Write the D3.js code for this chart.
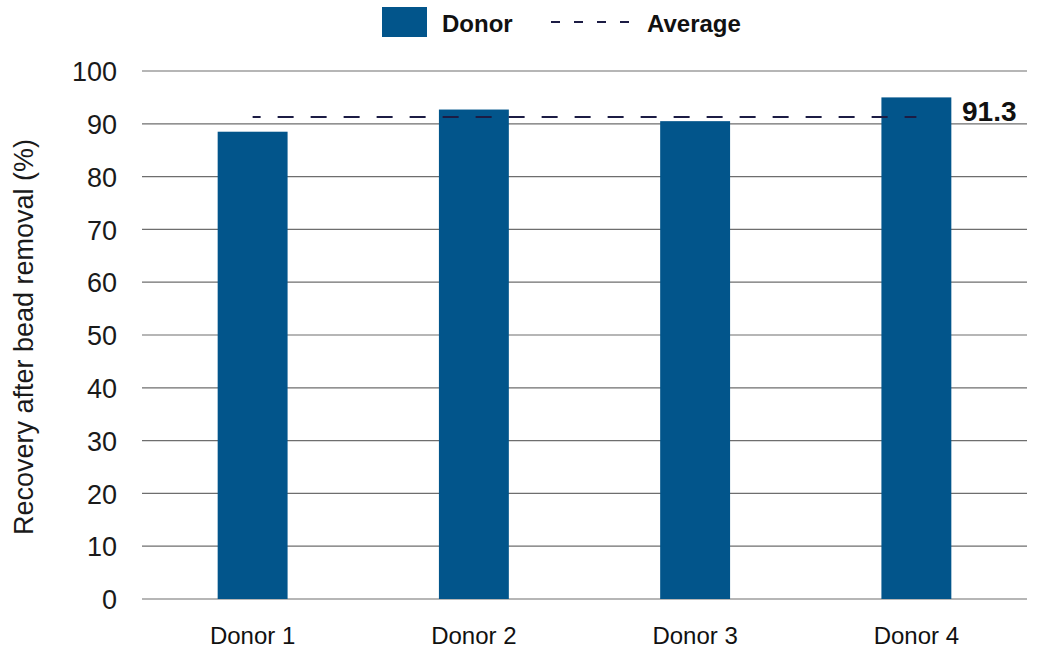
<!DOCTYPE html>
<html>
<head>
<meta charset="utf-8">
<script src="https://cdn.jsdelivr.net/npm/d3@7"></script>
<style>
  body { margin: 0; background: #fff; }
  text { font-family: "Liberation Sans", Arial, Helvetica, sans-serif; }
</style>
</head>
<body>
<div id="chart"></div>
<script>
const donors = ["Donor 1", "Donor 2", "Donor 3", "Donor 4"];
const recovery = [88.5, 92.7, 90.5, 95.0];
const average = 91.3;
const yTicks = [0, 10, 20, 30, 40, 50, 60, 70, 80, 90, 100];

const w = 1043;
const h = 670;
const plotLeft = 142, plotRight = 1027, plotTop = 71, plotBottom = 599;

const svg = d3.select("#chart")
  .append("svg")
  .attr("width", w)
  .attr("height", h);

const x = d3.scaleBand().domain(donors).range([plotLeft, plotRight])
  .paddingInner(0.684).paddingOuter(0.342);
const y = d3.scaleLinear().domain([0, 100]).range([plotBottom, plotTop]);

// grid lines
svg.append("g")
  .selectAll("line")
  .data(yTicks)
  .enter()
  .append("line")
  .attr("x1", plotLeft)
  .attr("x2", plotRight)
  .attr("y1", d => y(d))
  .attr("y2", d => y(d))
  .attr("stroke", "#6e6e6e")
  .attr("stroke-width", 1.2);

// y axis labels
const yAxis = d3.axisLeft(y).tickValues(yTicks).tickSize(0).tickPadding(0);
const gy = svg.append("g")
  .attr("transform", `translate(117, 0)`)
  .call(yAxis);
gy.select(".domain").remove();
gy.selectAll("text")
  .attr("font-size", "27px")
  .attr("fill", "#1a1a1a")
  .attr("dy", "0.36em")
  .style("font-family", "'Liberation Sans', Arial, sans-serif");

// x axis labels
const xAxis = d3.axisBottom(x).tickSize(0).tickPadding(0);
const gx = svg.append("g")
  .attr("transform", `translate(0, 627)`)
  .call(xAxis);
gx.select(".domain").remove();
gx.selectAll("text")
  .attr("font-size", "24px")
  .attr("fill", "#111")
  .style("font-family", "'Liberation Sans', Arial, sans-serif");

// bars
svg.append("g")
  .selectAll("rect")
  .data(recovery)
  .enter()
  .append("rect")
  .attr("x", (d, i) => x(donors[i]))
  .attr("width", x.bandwidth())
  .attr("y", d => y(d))
  .attr("height", d => y(0) - y(d))
  .attr("fill", "#02558b");

// average line
const cx1 = x(donors[0]) + x.bandwidth() / 2;
const cx2 = x(donors[donors.length - 1]) + x.bandwidth() / 2;
svg.append("line")
  .attr("x1", cx1)
  .attr("x2", cx2)
  .attr("y1", y(average))
  .attr("y2", y(average))
  .attr("stroke", "#1c1c44")
  .attr("stroke-width", 2)
  .attr("stroke-dasharray", "16 17")
  .attr("stroke-dashoffset", 8);

svg.append("text")
  .attr("x", 962)
  .attr("y", y(average) + 4)
  .attr("font-size", "28px")
  .attr("font-weight", "bold")
  .attr("fill", "#111")
  .text(average.toFixed(1));

// y title
svg.append("text")
  .attr("transform", `translate(33, ${(plotTop + plotBottom) / 2 + 2}) rotate(-90)`)
  .attr("text-anchor", "middle")
  .attr("font-size", "27px")
  .attr("fill", "#1a1a1a")
  .text("Recovery after bead removal (%)");

// legend
const legend = svg.append("g");
legend.append("rect")
  .attr("x", 382).attr("y", 7)
  .attr("width", 45).attr("height", 30)
  .attr("fill", "#02558b");
legend.append("text")
  .attr("x", 442).attr("y", 32)
  .attr("font-size", "24px")
  .attr("font-weight", "bold")
  .attr("fill", "#111")
  .text("Donor");
legend.append("line")
  .attr("x1", 551).attr("x2", 634)
  .attr("y1", 22).attr("y2", 22)
  .attr("stroke", "#1c1c44")
  .attr("stroke-width", 2)
  .attr("stroke-dasharray", "9 14");
legend.append("text")
  .attr("x", 647).attr("y", 32)
  .attr("font-size", "24px")
  .attr("font-weight", "bold")
  .attr("fill", "#111")
  .text("Average");
</script>
</body>
</html>
